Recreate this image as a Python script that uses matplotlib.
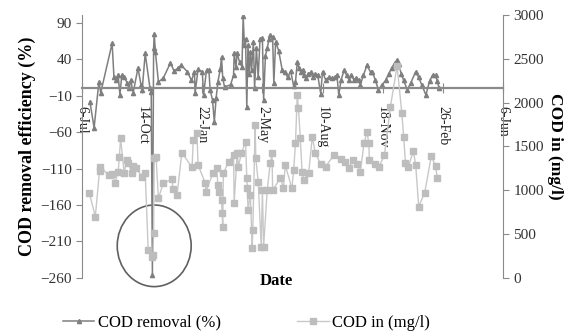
import matplotlib.pyplot as plt
from matplotlib.patches import Ellipse
from matplotlib.lines import Line2D

plt.rcParams['font.family'] = ['Liberation Serif', 'DejaVu Serif']

# days counted from 6-Jul
tick_days = [0, 100, 200, 300, 400, 500, 600, 700]
tick_labels = ['6-Jul', '14-Oct', '22-Jan', '2-May', '10-Aug', '18-Nov', '26-Feb', '6-Jun']

removal_days = [13, 20, 28, 31, 50, 53, 57, 60, 63, 66, 70, 75, 78, 81, 85, 93, 98, 100,
                105, 113, 115, 117, 119, 120, 122, 127, 135, 147, 153, 160, 165, 175,
                182, 187, 188, 193, 200, 202, 207, 211, 213, 217, 220, 223, 226, 230,
                232, 234, 237, 247, 252, 253, 256, 258, 262, 266, 268, 270, 272, 274,
                276, 278, 280, 282, 285, 287, 290, 293, 296, 300, 302, 305, 308, 311,
                313, 317, 319, 322, 327, 333, 338, 342, 347, 352, 355, 358, 361, 364,
                367, 370, 373, 376, 380, 384, 388, 392, 397, 400, 405, 410, 415, 420,
                424, 427, 431, 436, 440, 444, 448, 452, 456, 460, 463, 468, 474, 480,
                483, 488, 493, 499, 505, 510, 515, 520, 524, 527, 531, 535, 541, 547,
                555, 560, 565, 572, 578, 583, 588, 591, 594]
removal_pct = [-18, -54, 9, -6, 62, 16, 12, 18, -9, 18, 15, 8, 0, 11, -6, 28, 5, -2,
               48, 0, -5, -256, 55, 75, 50, 9, 14, 35, 24, 28, 32, 23,
               11, 23, -6, 26, 23, -9, 25, 25, -2, -16, -46, -13, 9, 27,
               43, 14, 2, 5, 18, 48, 30, 48, 36, 30, 99, 60, 68, -26,
               60, 20, 50, 25, 64, 0, 55, 15, 68, 69, -16, 45, 55, 68,
               73, 70, 7, 64, 52, 25, 22, 15, 24, 3, 9, 36, 28, 22,
               25, 18, 14, 20, 22, 15, 20, 18, -7, 23, 12, 15, 14, 15,
               18, -9, 12, 25, 18, 12, 18, 12, 14, 12, 5, 18, 32, 22,
               23, 11, -2, 5, 11, 20, 28, 35, 39, 33, 20, 11, -2, 8,
               23, 15, 5, -9, 10, 18, 18, 10, 0]

codin_days = [12, 22, 29, 30, 44, 50, 55, 60, 62, 64, 70, 74, 77, 83, 85, 90, 100,
              105, 110, 116, 118, 119, 120, 123, 127, 135, 150, 151, 158, 166, 183,
              185, 191, 193, 205, 206, 218, 224, 226, 227, 232, 233, 234, 235, 244,
              252, 253, 258, 260, 265, 272, 274, 275, 276, 280, 283, 284, 288, 289,
              293, 298, 300, 302, 308, 313, 316, 317, 330, 335, 338, 349, 352, 355,
              358, 360, 363, 366, 369, 377, 383, 388, 397, 405, 419, 430, 438, 444,
              450, 457, 463, 469, 474, 477, 478, 488, 494, 503, 513, 524, 532, 535,
              538, 543, 551, 555, 560, 570, 581, 588, 591]
codin_mgl = [973, 700, 1221, 1270, 1175, 1187, 1087, 1210, 1377, 1594, 1200, 1346, 1312,
             1194, 1278, 1250, 1156, 1201, 319, 243, 262, 510, 1366, 1384, 909, 1080,
             1126, 1012, 947, 1430, 1263, 1574, 1651, 1289, 1080, 985, 1200, 1251, 1061,
             985, 890, 738, 585, 1194, 1327, 1403, 852, 1422, 1270, 1422, 1555, 1137,
             1023, 776, 947, 339, 547, 1746, 1366, 1100, 357, 1004, 357, 1004, 1308,
             1422, 1004, 1137, 1023, 1289, 1023, 1232, 1536, 2088, 1936, 1594, 1213,
             1118, 1200, 1612, 1422, 1300, 1270, 1403, 1360, 1327, 1251, 1350, 1300,
             1213, 1536, 1669, 1536, 1346, 1300, 1270, 1400, 1955, 2420, 1879, 1612,
             1308, 1270, 1450, 1289, 814, 973, 1392, 1278, 1137]

fig = plt.figure(figsize=(5.78, 3.36), dpi=100)
ax = fig.add_axes([0.142, 0.173, 0.728, 0.782])
ax2 = ax.twinx()

ax.plot(removal_days, removal_pct, color='#7f7f7f', lw=1.1, marker='^', ms=3,
        label='COD removal (%)')
ax2.plot(codin_days, codin_mgl, color='#c8c8c8', lw=1.0, marker='s', ms=4.5,
         mfc='#bdbdbd', mec='#bdbdbd', label='COD in (mg/l)')

ax.set_xlim(0, 700)
ax.set_ylim(-260, 100.6)
ax2.set_ylim(0, 3000)
ax.set_yticks(range(-260, 91, 50))
ax2.set_yticks(range(0, 3001, 500))
ax.set_xticks(tick_days)
ax.set_xticklabels(tick_labels, fontsize=12.5)

ax.spines['bottom'].set_position(('data', 0))
for s in ['top', 'right']:
    ax.spines[s].set_visible(False)
for s in ['top', 'left', 'bottom']:
    ax2.spines[s].set_visible(False)
for sp in [ax.spines['left'], ax.spines['bottom'], ax2.spines['right']]:
    sp.set_color('#8a8a8a')
ax.spines['bottom'].set_linewidth(1.6)

ax.tick_params(axis='x', direction='inout', length=7, color='#8a8a8a', pad=9,
               labelrotation=270, labelcolor='#222222')
for lab in ax.get_xticklabels():
    lab.set_ha('center')
    lab.set_va('top')
ax.tick_params(axis='y', direction='out', length=4, color='#8a8a8a', labelsize=11,
               labelcolor='#333333')
ax2.tick_params(axis='y', direction='out', length=4, color='#8a8a8a', labelsize=11,
                labelcolor='#333333')

ax.set_ylabel('COD removal efficiency (%)', fontsize=13, fontweight='bold', labelpad=3)
ax2.set_ylabel('COD in (mg/l)', fontsize=12.5, fontweight='bold', rotation=270, labelpad=14)
fig.text(276 / 578, 1 - 281 / 336, 'Date', fontsize=12, fontweight='bold',
         ha='center', va='center')

# circle marking the outlier
ax.add_patch(Ellipse((120, -216), 123, 112, fill=False, ec='#606060', lw=1.2,
                     clip_on=False))

h1 = Line2D([], [], color='#7f7f7f', lw=1.1, marker='^', ms=3)
h2 = Line2D([], [], color='#c8c8c8', lw=1.0, marker='s', ms=4.5, mfc='#bdbdbd', mec='#bdbdbd')
fig.legend([h1, h2], ['COD removal (%)', 'COD in (mg/l)'], ncol=2, loc='center',
           bbox_to_anchor=(0.4265, 0.04), frameon=False, fontsize=12, columnspacing=4.6,
           handlelength=1.9, handletextpad=0.2)

fig.savefig('out.png', dpi=100)
